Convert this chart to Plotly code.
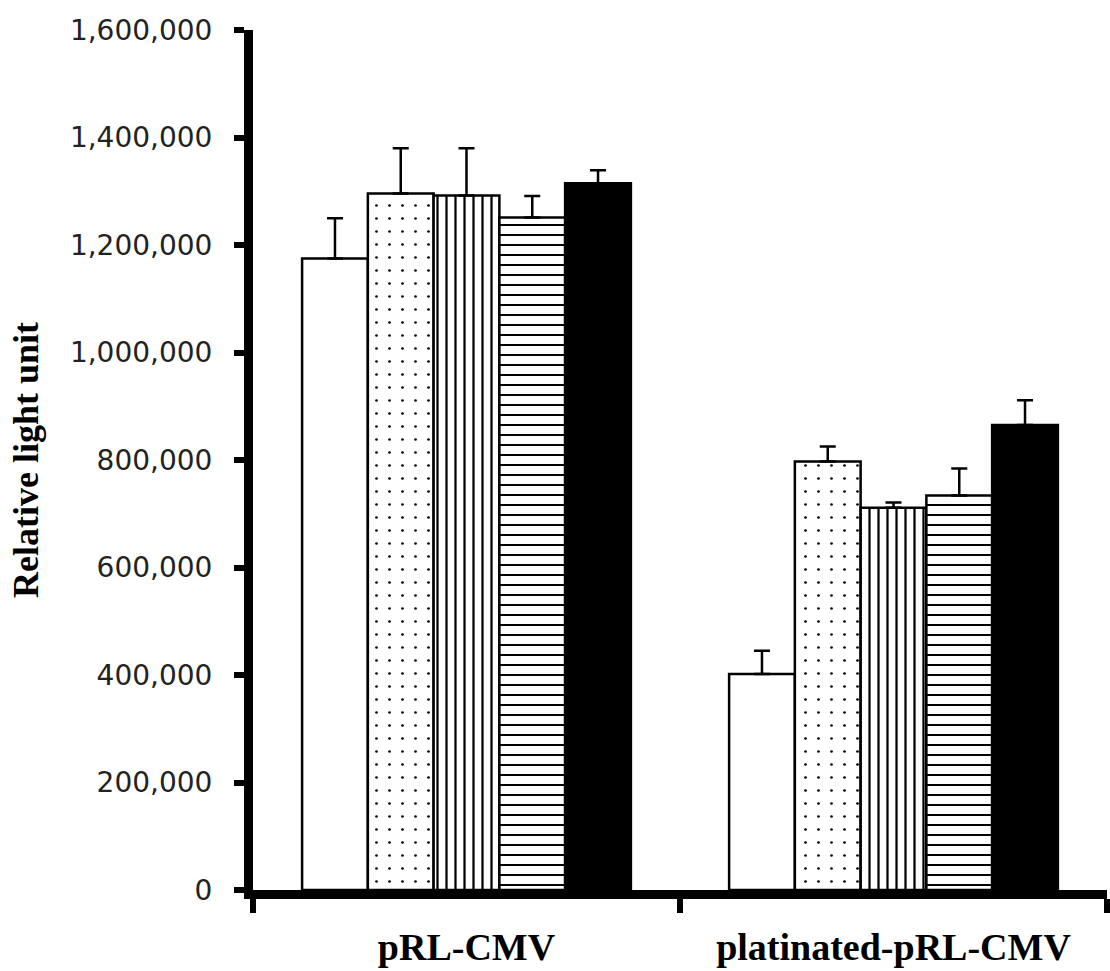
import plotly.graph_objects as go

categories = ["pRL-CMV", "platinated-pRL-CMV"]

series_names = ["A", "B", "C", "D", "E"]
values_a = [1175000, 402000]
values_b = [1296000, 797000]
values_c = [1292000, 711000]
values_d = [1251000, 734000]
values_e = [1315000, 865000]

errors_a = [75000, 43000]
errors_b = [84000, 28000]
errors_c = [88000, 10000]
errors_d = [40000, 50000]
errors_e = [24000, 46000]

y_ticks = [0, 200000, 400000, 600000, 800000, 1000000, 1200000, 1400000, 1600000]

all_values = [values_a, values_b, values_c, values_d, values_e]
all_errors = [errors_a, errors_b, errors_c, errors_d, errors_e]

styles = [
    dict(color="white", pattern=None),
    dict(color="white", pattern=dict(shape=".", size=13, solidity=0.035, fgcolor="black", fgopacity=1, bgcolor="white", fillmode="overlay")),
    dict(color="white", pattern=dict(shape="|", size=9, solidity=0.25, fgcolor="black", fgopacity=1, bgcolor="white", fillmode="overlay")),
    dict(color="white", pattern=dict(shape="-", size=10, solidity=0.2, fgcolor="black", fgopacity=1, bgcolor="white", fillmode="overlay")),
    dict(color="black", pattern=None),
]

fig = go.Figure()
for name, vals, errs, st in zip(series_names, all_values, all_errors, styles):
    marker = dict(color=st["color"], line=dict(color="black", width=2.5))
    if st["pattern"] is not None:
        marker["pattern"] = st["pattern"]
    fig.add_trace(go.Bar(
        name=name,
        x=categories,
        y=vals,
        marker=marker,
        error_y=dict(type="data", symmetric=False, array=errs,
                     arrayminus=[0] * len(errs), color="black",
                     thickness=2.5, width=8),
        showlegend=False,
    ))

fig.update_layout(
    width=1110,
    height=971,
    margin=dict(l=253, r=3, t=30, b=81),
    paper_bgcolor="white",
    plot_bgcolor="white",
    barmode="group",
    bargap=0.23,
    bargroupgap=0,
    showlegend=False,
)

fig.update_xaxes(
    showline=True,
    linecolor="black",
    linewidth=9,
    ticks="outside",
    tickson="boundaries",
    ticklen=14,
    tickwidth=6,
    tickcolor="black",
    showgrid=False,
    ticklabelstandoff=15,
    tickfont=dict(family="Liberation Serif", size=38, color="black", weight="bold"),
)

fig.update_yaxes(
    range=[0, 1600000],
    tickvals=y_ticks,
    tickformat=",d",
    showline=True,
    linecolor="black",
    linewidth=9,
    ticks="outside",
    ticklen=10,
    tickwidth=6,
    tickcolor="black",
    showgrid=False,
    zeroline=False,
    ticklabelstandoff=16,
    tickfont=dict(family="DejaVu Sans", size=28, color="#222222"),
    title=dict(text="Relative light unit",
               font=dict(family="Liberation Serif", size=36, color="black", weight="bold"),
               standoff=24),
)

fig.write_html("out.html")
